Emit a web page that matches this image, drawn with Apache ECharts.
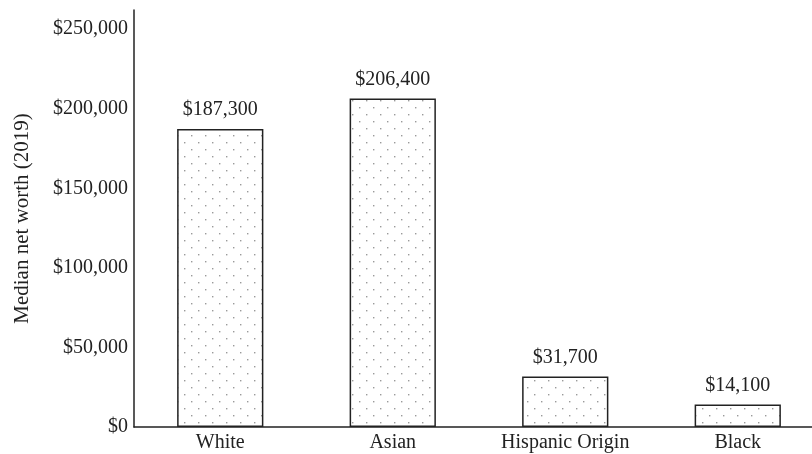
<!DOCTYPE html>
<html><head><meta charset="utf-8">
<script src="https://cdn.jsdelivr.net/npm/echarts@6/dist/echarts.min.js"></script>
<style>html,body{margin:0;padding:0;background:#fff;overflow:hidden;width:812px;height:454px}#c{width:824px;height:454px}</style>
</head><body><div id="c"></div>
<script>
var categories = ["White", "Asian", "Hispanic Origin", "Black"];
var netWorth = [187300, 206400, 31700, 14100];
var yTicks = [0, 50000, 100000, 150000, 200000, 250000];
var yAxisName = "Median net worth (2019)";

function fmt(v){ return "$" + v.toLocaleString("en-US"); }

var tile = document.createElement("canvas");
tile.width = 14; tile.height = 14;
var ctx = tile.getContext("2d");
ctx.fillStyle = "#fff"; ctx.fillRect(0,0,14,14);
ctx.fillStyle = "#9a9a9a";
ctx.fillRect(2,2,1.4,1.4);
ctx.fillRect(9,9,1.4,1.4);

var FONT = "'Liberation Serif', 'Times New Roman', serif";
var chart = echarts.init(document.getElementById("c"), null, {renderer: "canvas"});
chart.setOption({
  animation: false,
  grid: {left: 134, top: 10, bottom: 27, right: 0, containLabel: false},
  xAxis: {
    type: "category", data: categories,
    axisLine: {lineStyle: {color: "#222", width: 1.5}},
    axisTick: {show: false},
    axisLabel: {color: "#222", fontFamily: FONT, fontSize: 20, margin: 6}
  },
  yAxis: {
    type: "value", min: yTicks[0], max: 262000, interval: yTicks[1] - yTicks[0],
    name: yAxisName, nameLocation: "middle", nameGap: 101,
    nameTextStyle: {color: "#222", fontFamily: FONT, fontSize: 21},
    axisLine: {show: true, lineStyle: {color: "#222", width: 1.5}},
    axisTick: {show: false},
    splitLine: {show: false},
    axisLabel: {color: "#222", fontFamily: FONT, fontSize: 20, margin: 6, showMaxLabel: false,
      formatter: function(v){ return yTicks.indexOf(v) >= 0 ? fmt(v) : ""; }}
  },
  series: [{
    type: "bar", data: netWorth, barWidth: "50%",
    itemStyle: {color: {image: tile, repeat: "repeat"}, borderColor: "#222", borderWidth: 1.5},
    label: {show: true, position: "top", distance: 9, color: "#222", fontFamily: FONT, fontSize: 20,
      formatter: function(p){ return fmt(p.value); }}
  }]
});
</script></body></html>
